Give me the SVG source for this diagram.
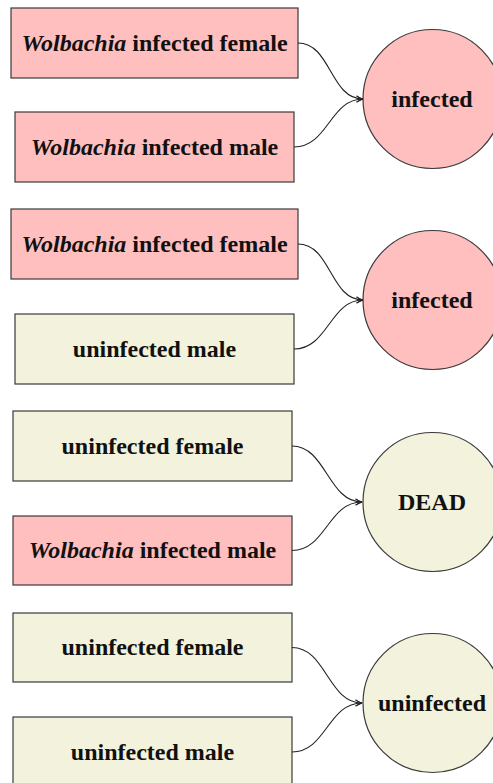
<svg xmlns="http://www.w3.org/2000/svg" width="493" height="783" viewBox="0 0 493 783">
<defs>
<style>
.box{stroke:#3a3a3a;stroke-width:1.2}
.inf{fill:#ffbfbf}
.un{fill:#f3f2dc}
text{font-family:"Liberation Serif","Times New Roman",serif;font-weight:bold;font-size:24px;fill:#111;text-anchor:middle}
.it{font-style:italic}
.conn{fill:none;stroke:#222;stroke-width:1.1}
</style>
<marker id="arr" viewBox="0 0 10 10" refX="9" refY="5" markerWidth="8" markerHeight="8" markerUnits="userSpaceOnUse" orient="auto">
<path d="M1,1 Q5,4 9,5 Q5,6 1,9" fill="none" stroke="#222" stroke-width="1.3"/>
</marker>
</defs>
<rect width="493" height="783" fill="#fff"/>

<g id="p1-female">
<rect class="box inf" x="11" y="8" width="287" height="70"/>
<text x="154.5" y="51"><tspan class="it">Wolbachia</tspan> infected female</text>
</g>
<g id="p1-male">
<rect class="box inf" x="15" y="112" width="279" height="70"/>
<text x="154.5" y="155"><tspan class="it">Wolbachia</tspan> infected male</text>
</g>
<g id="p1-result">
<circle class="box inf" cx="432.5" cy="99" r="69.5"/>
<text x="432" y="107">infected</text>
</g>

<g id="p2-female">
<rect class="box inf" x="11" y="209" width="287" height="70"/>
<text x="154.5" y="252"><tspan class="it">Wolbachia</tspan> infected female</text>
</g>
<g id="p2-male">
<rect class="box un" x="15" y="314" width="279" height="70"/>
<text x="154.5" y="357">uninfected male</text>
</g>
<g id="p2-result">
<circle class="box inf" cx="432.5" cy="300" r="69.5"/>
<text x="432" y="308">infected</text>
</g>

<g id="p3-female">
<rect class="box un" x="13" y="411" width="279" height="70"/>
<text x="152.5" y="454">uninfected female</text>
</g>
<g id="p3-male">
<rect class="box inf" x="13" y="516" width="279" height="69"/>
<text x="152.5" y="558"><tspan class="it">Wolbachia</tspan> infected male</text>
</g>
<g id="p3-result">
<circle class="box un" cx="432.5" cy="502" r="69.5"/>
<text x="432" y="510">DEAD</text>
</g>

<g id="p4-female">
<rect class="box un" x="13" y="613" width="279" height="69"/>
<text x="152.5" y="655">uninfected female</text>
</g>
<g id="p4-male">
<rect class="box un" x="13" y="717" width="279" height="70"/>
<text x="152.5" y="760">uninfected male</text>
</g>
<g id="p4-result">
<circle class="box un" cx="432.5" cy="703" r="69.5"/>
<text x="432" y="711">uninfected</text>
</g>

<g id="connectors">
<path class="conn" marker-end="url(#arr)" d="M298,43 C331,43 330,99 363,99"/>
<path class="conn" marker-end="url(#arr)" d="M294,147 C328,147 330,99 363,99"/>
<path class="conn" marker-end="url(#arr)" d="M298,244 C331,244 330,300 363,300"/>
<path class="conn" marker-end="url(#arr)" d="M294,349 C328,349 330,300 363,300"/>
<path class="conn" marker-end="url(#arr)" d="M292,446 C326,446 328,502 362,502"/>
<path class="conn" marker-end="url(#arr)" d="M292,550.5 C326,550.5 328,502 362,502"/>
<path class="conn" marker-end="url(#arr)" d="M292,647.5 C326,647.5 328,703 362,703"/>
<path class="conn" marker-end="url(#arr)" d="M292,752 C326,752 328,703 362,703"/>
</g>
</svg>
